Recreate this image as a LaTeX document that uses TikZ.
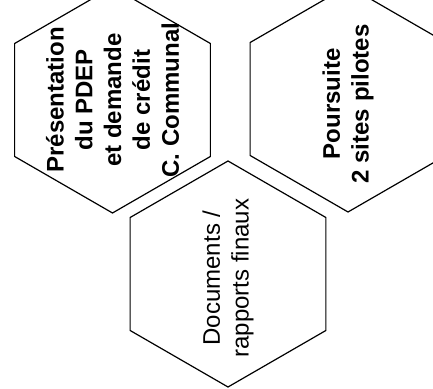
\documentclass[tikz,border=0pt]{standalone}
\usepackage{fontspec}
\setmainfont{Liberation Sans}
\usetikzlibrary{shapes.geometric}

\begin{document}
\begin{tikzpicture}[
  x=0.5pt, y=0.5pt,
  hexa/.style={draw, regular polygon, regular polygon sides=6, shape border rotate=30,
               minimum size=113pt, inner sep=0pt, line width=0.6pt},
  vtxt/.style={rotate=90, align=center, inner sep=0pt,
               font=\fontsize{12}{14.4}\selectfont},
  vbold/.style={vtxt, font=\fontsize{12}{14.4}\selectfont\bfseries}
]
  \useasboundingbox (0,0) rectangle (433,389);
  \clip (0,0) rectangle (433,389);

  % hexagons
  \node[hexa] (pdep)    at (112.5,289) {};
  \node[hexa] (pilotes) at (348,290)   {};
  \node[hexa] (docs)    at (228,115)   {};

  % labels, read upwards
  \node[vbold] (pdeptxt) at (pdep.center)
    {Présentation\\du PDEP\\et demande\\de crédit\\C. Communal};
  \node[vbold, xshift=-2.5pt] (pilotestxt) at (pilotes.center)
    {Poursuite\\2 sites pilotes};
  \node[vtxt, xshift=-2pt] (docstxt) at (docs.center)
    {Documents /\\rapports finaux};
\end{tikzpicture}
\end{document}
